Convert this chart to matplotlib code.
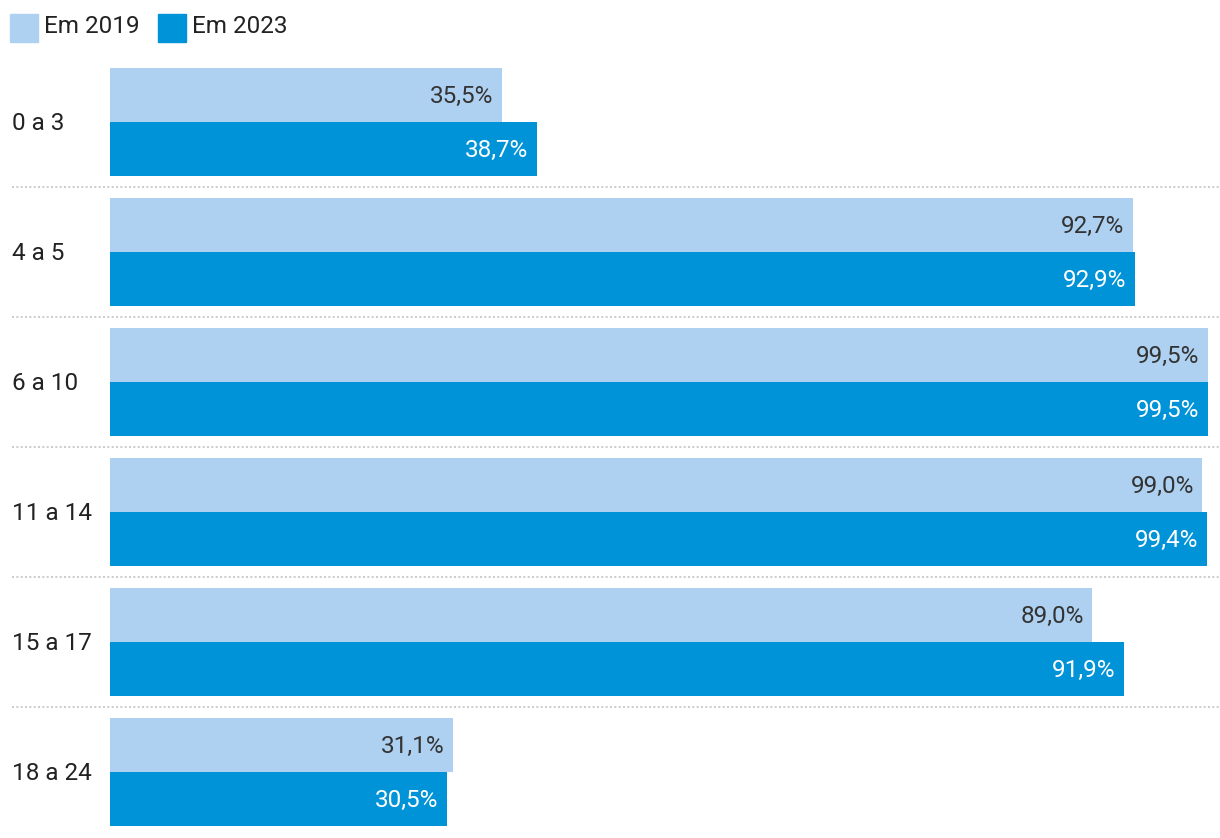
import matplotlib
matplotlib.use("Agg")
import matplotlib.pyplot as plt
from matplotlib.patches import Rectangle
from matplotlib.transforms import offset_copy
import numpy as np

plt.rcParams['font.family'] = ['Roboto', 'DejaVu Sans']

categories = ["0 a 3", "4 a 5", "6 a 10", "11 a 14", "15 a 17", "18 a 24"]
series_names = ["Em 2019", "Em 2023"]
values_2019 = [35.5, 92.7, 99.5, 99.0, 89.0, 31.1]
values_2023 = [38.7, 92.9, 99.5, 99.4, 91.9, 30.5]

light = "#AED1F1"
dark = "#0093D7"
FS = 17.5

W, H = 1220, 838
fig = plt.figure(figsize=(W / 100, H / 100), dpi=100)
ax = fig.add_axes([110 / W, 0, 1 - 110 / W, 1])
xmax = 100.6
ax.set_xlim(0, xmax)
ax.set_ylim(5.508, -0.938)
ax.axis("off")

y = np.arange(len(categories))
h = 54 / 130
ax.barh(y - h / 2, values_2019, height=h, color=light)
ax.barh(y + h / 2, values_2023, height=h, color=dark)

# baseline shifted so that digits are vertically centred
tr = offset_copy(ax.transData, fig=fig, x=0, y=-8.2, units="dots")

pad = 8.5 / 1110 * xmax
for i, (a, b) in enumerate(zip(values_2019, values_2023)):
    ax.text(a - pad, i - h / 2, f"{a:.1f}%".replace(".", ","), ha="right", va="baseline",
            fontsize=FS, color="#333333", transform=tr)
    ax.text(b - pad, i + h / 2, f"{b:.1f}%".replace(".", ","), ha="right", va="baseline",
            fontsize=FS, color="white", transform=tr)
    ax.text(-98 / 1110 * xmax, i, categories[i], ha="left", va="baseline",
            fontsize=FS, color="#222222", transform=tr)

xl = -98 / 1110 * xmax
for i in range(len(categories) - 1):
    ax.plot([xl, xmax], [i + 0.5, i + 0.5], color="#c4c4c4", lw=1.2,
            linestyle=(0, (1.2, 1.4)), clip_on=False)

# legend
for k, (name, col) in enumerate(zip(series_names, [light, dark])):
    x0 = [10, 158][k]
    fig.patches.append(Rectangle((x0 / W, 1 - 42 / H), 28 / W, 28 / H,
                                 transform=fig.transFigure, color=col))
    fig.text((x0 + 34) / W, 1 - 33 / H, name, ha="left", va="baseline",
             fontsize=FS, color="#222222")

fig.savefig("out.png", dpi=100)
